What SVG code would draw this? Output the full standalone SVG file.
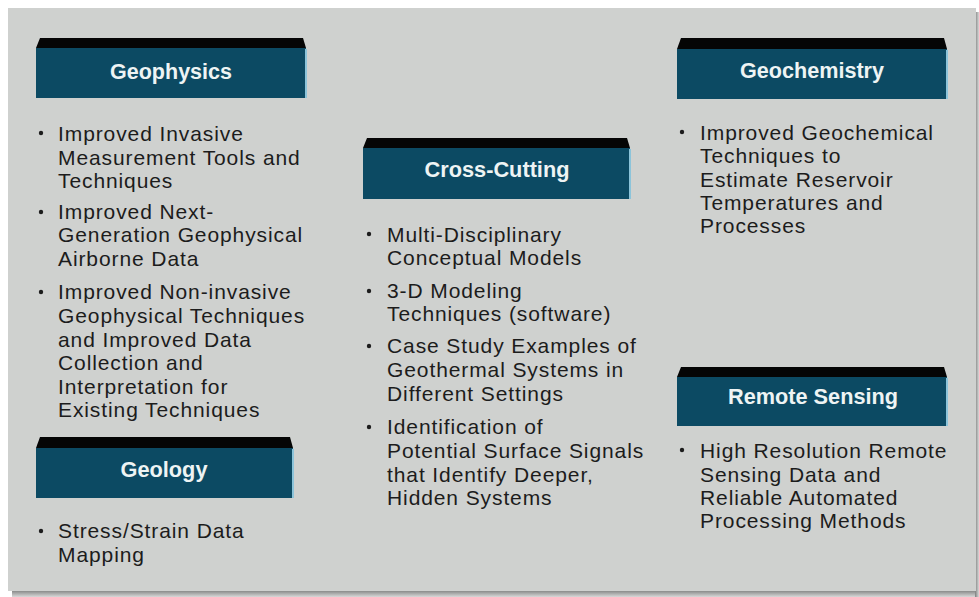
<svg xmlns="http://www.w3.org/2000/svg" width="979" height="597" viewBox="0 0 979 597">
<defs>
<style>
.bevel{fill:#050505}
.box{fill:#0c4a63}
.hl{stroke:#8cc4da;stroke-width:2;fill:none}
.head{font-family:"Liberation Sans",Arial,sans-serif;font-weight:bold;font-size:22.5px;fill:#eef4f4;text-anchor:middle}
.body{font-family:"Liberation Sans",Arial,sans-serif;font-size:21px;letter-spacing:0.9px;fill:#1c1c1c}
.dot{fill:#1c1c1c}
</style>
<linearGradient id="shB" x1="0" y1="0" x2="0" y2="1"><stop offset="0" stop-color="#7d7f7e"/><stop offset="1" stop-color="#d8d8d8"/></linearGradient>
<linearGradient id="shR" x1="0" y1="0" x2="1" y2="0"><stop offset="0" stop-color="#7d7f7e"/><stop offset="1" stop-color="#d8d8d8"/></linearGradient>
</defs>
<rect x="0" y="0" width="979" height="597" fill="#ffffff"/>
<rect x="12" y="590" width="966" height="7" fill="url(#shB)"/>
<rect x="975" y="12" width="4" height="585" fill="url(#shR)"/>
<rect x="8" y="8" width="968" height="583" fill="#cfd1cf"/>

<g id="geophysics">
<polygon class="bevel" points="40,38 303,38 306,48 36,48"/>
<rect class="box" x="36" y="48" width="270" height="50"/>
<line class="hl" x1="306" y1="49" x2="306" y2="98"/>
<text class="head" x="171" y="79" textLength="122" lengthAdjust="spacingAndGlyphs">Geophysics</text>
<circle class="dot" cx="41" cy="133" r="2.2"/>
<circle class="dot" cx="41" cy="212" r="2.2"/>
<circle class="dot" cx="41" cy="292" r="2.2"/>
<text class="body"><tspan x="58" y="141">Improved Invasive</tspan><tspan x="58" y="165">Measurement Tools and</tspan><tspan x="58" y="188">Techniques</tspan><tspan x="58" y="219">Improved Next-</tspan><tspan x="58" y="242">Generation Geophysical</tspan><tspan x="58" y="266">Airborne Data</tspan><tspan x="58" y="299">Improved Non-invasive</tspan><tspan x="58" y="323">Geophysical Techniques</tspan><tspan x="58" y="347">and Improved Data</tspan><tspan x="58" y="370">Collection and</tspan><tspan x="58" y="394">Interpretation for</tspan><tspan x="58" y="417">Existing Techniques</tspan></text>
</g>

<g id="geology">
<polygon class="bevel" points="40,437 290,437 293,448 36,448"/>
<rect class="box" x="36" y="448" width="257" height="50"/>
<line class="hl" x1="293" y1="449" x2="293" y2="498"/>
<text class="head" x="164" y="477" textLength="87" lengthAdjust="spacingAndGlyphs">Geology</text>
<circle class="dot" cx="41" cy="531" r="2.2"/>
<text class="body"><tspan x="58" y="538">Stress/Strain Data</tspan><tspan x="58" y="562">Mapping</tspan></text>
</g>

<g id="crosscutting">
<polygon class="bevel" points="367,138 627,138 630,148 363,148"/>
<rect class="box" x="363" y="148" width="267" height="51"/>
<line class="hl" x1="630" y1="149" x2="630" y2="199"/>
<text class="head" x="497" y="177" textLength="145" lengthAdjust="spacingAndGlyphs">Cross-Cutting</text>
<circle class="dot" cx="369" cy="234" r="2.2"/>
<circle class="dot" cx="369" cy="291" r="2.2"/>
<circle class="dot" cx="369" cy="346" r="2.2"/>
<circle class="dot" cx="369" cy="427" r="2.2"/>
<text class="body"><tspan x="387" y="242">Multi-Disciplinary</tspan><tspan x="387" y="265">Conceptual Models</tspan><tspan x="387" y="298">3-D Modeling</tspan><tspan x="387" y="321">Techniques (software)</tspan><tspan x="387" y="353">Case Study Examples of</tspan><tspan x="387" y="377">Geothermal Systems in</tspan><tspan x="387" y="401">Different Settings</tspan><tspan x="387" y="434">Identification of</tspan><tspan x="387" y="458">Potential Surface Signals</tspan><tspan x="387" y="482">that Identify Deeper,</tspan><tspan x="387" y="505">Hidden Systems</tspan></text>
</g>

<g id="geochemistry">
<polygon class="bevel" points="681,38 944,38 947,49 677,49"/>
<rect class="box" x="677" y="49" width="270" height="50"/>
<line class="hl" x1="947" y1="50" x2="947" y2="99"/>
<text class="head" x="812" y="78" textLength="144" lengthAdjust="spacingAndGlyphs">Geochemistry</text>
<circle class="dot" cx="682" cy="132" r="2.2"/>
<text class="body"><tspan x="700" y="140">Improved Geochemical</tspan><tspan x="700" y="163">Techniques to</tspan><tspan x="700" y="187">Estimate Reservoir</tspan><tspan x="700" y="210">Temperatures and</tspan><tspan x="700" y="233">Processes</tspan></text>
</g>

<g id="remotesensing">
<polygon class="bevel" points="681,367 944,367 947,377 677,377"/>
<rect class="box" x="677" y="377" width="270" height="49"/>
<line class="hl" x1="947" y1="378" x2="947" y2="426"/>
<text class="head" x="813" y="404" textLength="170" lengthAdjust="spacingAndGlyphs">Remote Sensing</text>
<circle class="dot" cx="682" cy="450" r="2.2"/>
<text class="body"><tspan x="700" y="458">High Resolution Remote</tspan><tspan x="700" y="482">Sensing Data and</tspan><tspan x="700" y="505">Reliable Automated</tspan><tspan x="700" y="528">Processing Methods</tspan></text>
</g>

<g id="connectors"></g>
</svg>
